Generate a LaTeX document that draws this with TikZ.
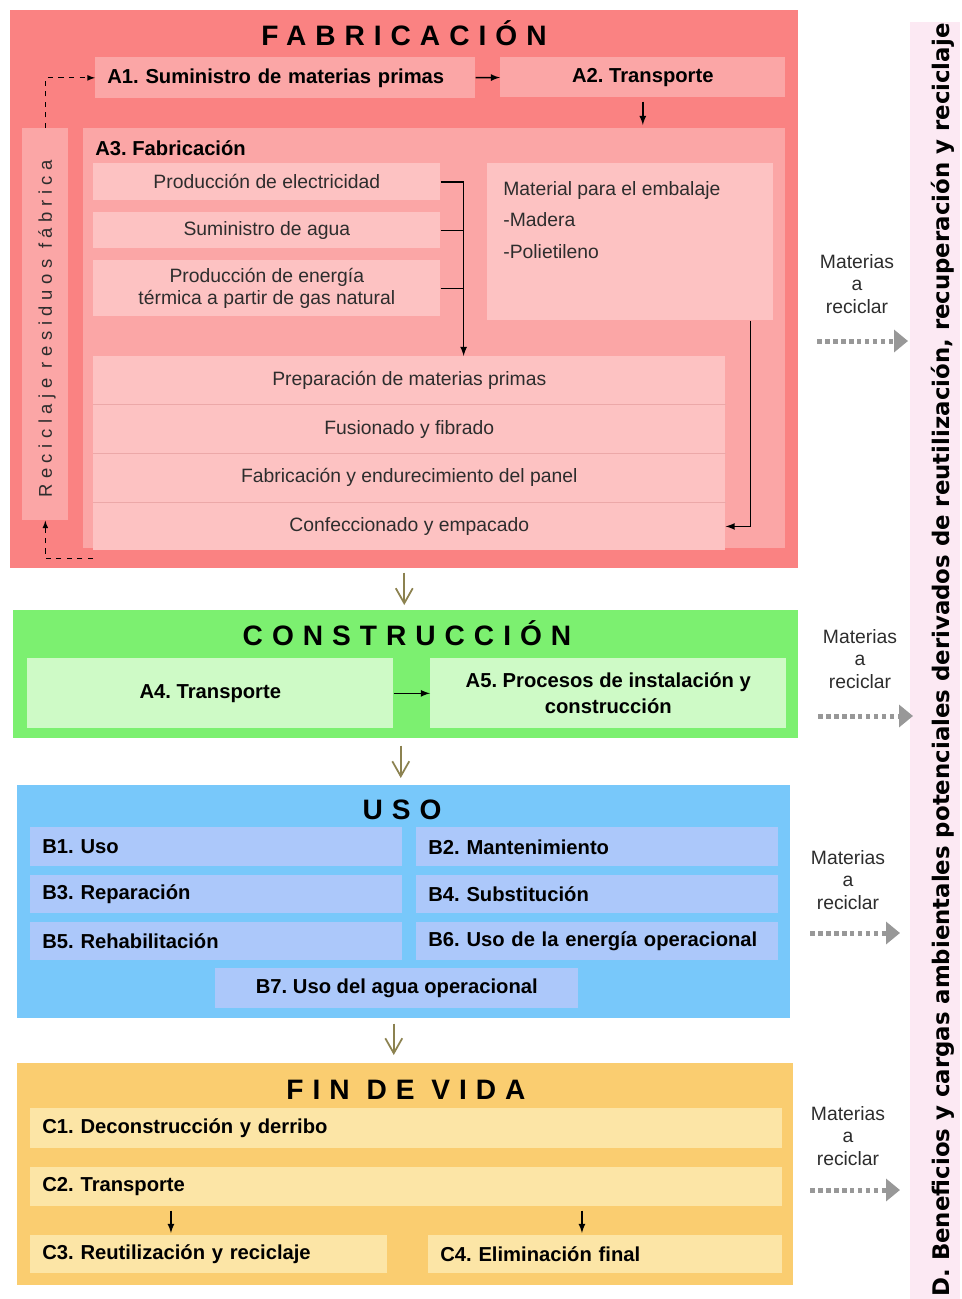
\documentclass[tikz,border=0pt]{standalone}
\usepackage{fontspec}
\setmainfont{Liberation Sans}
\newfontfamily\titlefont[LetterSpace=32]{Liberation Sans}
\newfontfamily\recfont[LetterSpace=30]{Liberation Sans}
\newfontfamily\sidefont{DejaVu Sans}
\usetikzlibrary{calc}
\usetikzlibrary{arrows}
\usetikzlibrary{arrows.meta}
\usetikzlibrary{positioning}
\frenchspacing

\definecolor{fabred}{RGB}{250,130,130}
\definecolor{fabbox}{RGB}{251,166,166}
\definecolor{fabitem}{RGB}{253,194,194}
\definecolor{fabline}{RGB}{236,168,168}
\definecolor{congreen}{RGB}{124,240,112}
\definecolor{conbox}{RGB}{206,250,198}
\definecolor{usoblue}{RGB}{120,200,250}
\definecolor{usobox}{RGB}{172,200,250}
\definecolor{finorange}{RGB}{250,205,112}
\definecolor{finbox}{RGB}{252,229,166}
\definecolor{sidepink}{RGB}{252,233,243}
\definecolor{olivearrow}{RGB}{140,130,80}
\definecolor{flowgray}{RGB}{152,152,152}
\definecolor{bodytext}{RGB}{45,45,45}

\tikzset{
  stage/.style={anchor=north west, inner sep=0pt, fill=#1},
  cbox/.style={anchor=north west, inner sep=0pt, align=center, fill=#1, text=bodytext, font=\fontsize{11}{13}\selectfont},
  lbox/.style 2 args={anchor=north west, inner xsep=0.24cm, inner ysep=0pt, align=left, fill=#1, text width=#2, font=\bfseries\fontsize{11.5}{15}\selectfont},
  boldtext/.style={text=black, font=\bfseries\fontsize{11.5}{15}\selectfont},
  stagetitle/.style={anchor=base, font=\titlefont\bfseries\fontsize{16}{18}\selectfont},
  blackline/.style={line width=0.8pt},
  blackarrow/.style={-latex, line width=0.8pt},
  recycle/.style={dashed, -latex, line width=0.5pt},
  sepline/.style={draw=fabline, line width=0.5pt},
  stagearrow/.style={-{Straight Barb[length=0.3cm,width=0.34cm]}, draw=olivearrow, line width=1pt},
  outflow/.style={draw=flowgray, line width=0.1cm, dash pattern=on 0.09cm off 0.07cm, -{Triangle[length=0.28cm,width=0.44cm]}},
  matlabel/.style={align=center, text=bodytext, font=\fontsize{11}{13}\selectfont}
}

\begin{document}
\begin{tikzpicture}[x=0.02cm, y=-0.02cm]
\useasboundingbox (0,0) rectangle (962,1299);

% fabricacion
\node[stage=fabred, minimum width=15.76cm, minimum height=11.16cm] (fab) at (10,10) {};
\node[stagetitle] (fabtitle) at (404,45) {FABRICACIÓN};
\node[lbox={fabbox}{7.12cm}, minimum height=0.82cm] (a1) at (95,57) {A1. Suministro de materias primas};
\node[cbox=fabbox, boldtext, minimum width=5.7cm, minimum height=0.8cm] (a2) at (500,57) {A2. Transporte};
\node[stage=fabbox, minimum width=14.04cm, minimum height=8.4cm] (a3) at (83,128) {};
\node[boldtext, anchor=base west, inner sep=0pt] (a3title) at ([xshift=0.24cm, yshift=-0.54cm]a3.north west) {A3. Fabricación};
\node[cbox=fabitem, minimum width=6.94cm, minimum height=0.74cm] (elec) at (93,163) {Producción de electricidad};
\node[cbox=fabitem, minimum width=6.94cm, minimum height=0.72cm] (agua) at (93,212) {Suministro de agua};
\node[cbox=fabitem, minimum width=6.94cm, minimum height=1.12cm] (term) at (93,260) {Producción de energía\\térmica a partir de gas natural};
\node[cbox=fabitem, minimum width=5.72cm, minimum height=3.14cm] (emb) at (487,163) {};
\node[anchor=north west, align=left, inner sep=0pt, text=bodytext, font=\fontsize{11}{18}\selectfont] (embtext) at ([xshift=0.32cm, yshift=-0.36cm]emb.north west) {Material para el embalaje\\-Madera\\-Polietileno};
\node[cbox=fabitem, minimum width=12.64cm, minimum height=0.96cm] (p1) at (93,356) {Preparación de materias primas};
\node[cbox=fabitem, minimum width=12.64cm, minimum height=0.96cm, below=0pt of p1] (p2) {Fusionado y fibrado};
\node[cbox=fabitem, minimum width=12.64cm, minimum height=0.96cm, below=0pt of p2] (p3) {Fabricación y endurecimiento del panel};
\node[cbox=fabitem, minimum width=12.64cm, minimum height=0.96cm, below=0pt of p3] (p4) {Confeccionado y empacado};
\foreach \row in {p1,p2,p3}
  \draw[sepline] (\row.south west) -- (\row.south east);
\node[stage=fabbox, minimum width=0.92cm, minimum height=7.84cm] (recbox) at (22,128) {};
\node[rotate=90, text=bodytext, font=\recfont\fontsize{10.5}{12}\selectfont] (rectext) at (47,329) {Reciclaje residuos fábrica};

\draw[blackarrow] (a1) -- (a2);
\draw[blackarrow, shorten <=0.08cm, shorten >=0.06cm] (a2.south) -- (a2.south |- a3.north);
\coordinate (join) at ([xshift=0.46cm]elec.east);
\draw[blackline] (elec.east) -- (join);
\draw[blackline] (agua.east) -- (agua.east -| join);
\draw[blackline] (term.east) -- (term.east -| join);
\draw[blackarrow] (join) -- (join |- p1.north);
\coordinate (embout) at ([xshift=-0.46cm]emb.south east);
\draw[blackarrow] (embout) |- (p4.east);
\coordinate (recin) at ([yshift=-0.16cm]p4.south west);
\draw[recycle] (recin) -| (recbox.south);
\draw[recycle] (recbox.north) |- (a1.west);

% construccion
\node[stage=congreen, minimum width=15.7cm, minimum height=2.56cm] (cons) at (13,610) {};
\node[stagetitle] (constitle) at (407,645) {CONSTRUCCIÓN};
\node[cbox=conbox, boldtext, minimum width=7.32cm, minimum height=1.4cm] (a4) at (27,658) {A4. Transporte};
\node[cbox=conbox, boldtext, minimum width=7.12cm, minimum height=1.4cm] (a5) at (430,658) {A5. Procesos de instalación y\\construcción};
\draw[blackarrow] (a4) -- (a5);

% uso
\node[stage=usoblue, minimum width=15.46cm, minimum height=4.66cm] (uso) at (17,785) {};
\node[stagetitle] (usotitle) at (402,819) {USO};
\node[lbox={usobox}{6.96cm}, minimum height=0.78cm] (b1) at (30,827) {B1. Uso};
\node[lbox={usobox}{6.76cm}, minimum height=0.78cm] (b2) at (416,827) {B2. Mantenimiento};
\node[lbox={usobox}{6.96cm}, minimum height=0.76cm] (b3) at (30,875) {B3. Reparación};
\node[lbox={usobox}{6.76cm}, minimum height=0.76cm] (b4) at (416,875) {B4. Substitución};
\node[lbox={usobox}{6.96cm}, minimum height=0.76cm] (b5) at (30,922) {B5. Rehabilitación};
\node[lbox={usobox}{6.76cm}, minimum height=0.76cm] (b6) at (416,922) {B6. Uso de la energía operacional};
\node[cbox=usobox, boldtext, minimum width=7.26cm, minimum height=0.8cm] (b7) at (215,968) {B7. Uso del agua operacional};

% fin de vida
\node[stage=finorange, minimum width=15.52cm, minimum height=4.44cm] (fin) at (17,1063) {};
\node[stagetitle] (fintitle) at (406,1099) {FIN DE VIDA};
\node[lbox={finbox}{14.56cm}, minimum height=0.8cm] (c1) at (30,1108) {C1. Deconstrucción y derribo};
\node[lbox={finbox}{14.56cm}, minimum height=0.78cm] (c2) at (30,1167) {C2. Transporte};
\node[lbox={finbox}{6.66cm}, minimum height=0.76cm] (c3) at (30,1235) {C3. Reutilización y reciclaje};
\node[lbox={finbox}{6.60cm}, minimum height=0.76cm] (c4) at (428,1235) {C4. Eliminación final};
\coordinate (c3in) at ([xshift=2.82cm]c3.north west);
\coordinate (c4in) at ([xshift=3.08cm]c4.north west);
\draw[blackarrow, shorten <=0.08cm, shorten >=0.04cm] (c3in |- c2.south) -- (c3in);
\draw[blackarrow, shorten <=0.08cm, shorten >=0.04cm] (c4in |- c2.south) -- (c4in);

% between the stages
\draw[stagearrow, shorten <=0.08cm, shorten >=0.1cm] (fab.south) -- (fab.south |- cons.north);
\coordinate (consout) at ([xshift=-0.1cm]cons.south);
\draw[stagearrow, shorten <=0.14cm, shorten >=0.14cm] (consout) -- (consout |- uso.north);
\coordinate (usoout) at ([xshift=-0.2cm]uso.south);
\draw[stagearrow, shorten <=0.1cm, shorten >=0.16cm] (usoout) -- (usoout |- fin.north);

% modulo D
\node[stage=sidepink, minimum width=1cm, minimum height=25.54cm] (strip) at (910,22) {};
\node[rotate=90, font=\sidefont\bfseries\fontsize{13}{15}\selectfont] (striptext) at (943,660) {D. Beneficios y cargas ambientales potenciales derivados de reutilización, recuperación y reciclaje};
\foreach \mx/\my/\fy/\fa/\fb [count=\i] in {857/284/341/817/908, 860/659/716/818/913, 848/880/933/810/900, 848/1136/1190/810/900} {
  \node[matlabel] (mat\i) at (\mx,\my) {Materias\\a\\reciclar};
  \coordinate (flowstart\i) at (\fa,\fy);
  \coordinate (flowend\i) at (\fb,\fy);
  \draw[outflow] (flowstart\i) -- (flowend\i);
}
\end{tikzpicture}
\end{document}
